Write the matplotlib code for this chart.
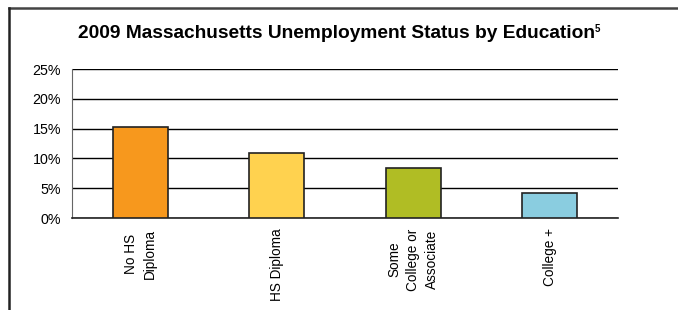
import matplotlib.pyplot as plt
from matplotlib.lines import Line2D

plt.rcParams['font.family'] = ['Liberation Sans', 'DejaVu Sans']

categories = ['No HS\nDiploma', 'HS Diploma', 'Some\nCollege or\nAssociate', 'College +']
rates = [15.3, 10.9, 8.4, 4.2]
colors = ['#F7981D', '#FFD24F', '#B0BD24', '#8ACDE0']
yticks = [0, 5, 10, 15, 20, 25]

fig = plt.figure(figsize=(6.78, 3.10), dpi=100)
ax = fig.add_axes([72/678, 1 - 218/310, 546/678, 149/310])

x = range(len(categories))
ax.bar(x, rates, width=0.4, color=colors, edgecolor='#222222', linewidth=1.2, zorder=3)

ax.set_xlim(-0.5, 3.5)
ax.set_ylim(0, 25)
ax.set_yticks(yticks)
ax.set_yticklabels([f'{v}%' for v in yticks], fontsize=10.3)
ax.yaxis.grid(True, color='black', linewidth=1)
ax.set_axisbelow(True)
ax.tick_params(axis='y', length=0, pad=8)
ax.tick_params(axis='x', length=0)
ax.set_xticks(list(x))
ax.set_xticklabels([])
for i, lab in enumerate(categories):
    ax.text(i, -0.07, lab, transform=ax.get_xaxis_transform(), rotation=90,
            ha='center', va='top', multialignment='center', fontsize=9.8,
            linespacing=1.4)

for s in ['top', 'right']:
    ax.spines[s].set_visible(False)
ax.spines['left'].set_color('#666666')
ax.spines['bottom'].set_color('#222222')
ax.spines['bottom'].set_linewidth(1.2)

fig.text(337/678, 1 - 33/310, '2009 Massachusetts Unemployment Status by Education',
         ha='center', va='center', fontsize=13.8, fontweight='bold')
fig.text(595/678, 1 - 29/310, '5', ha='left', va='center', fontsize=7, fontweight='bold')

# frame lines of the original box
fig.add_artist(Line2D([8.5/678, 1], [1 - 8/310, 1 - 8/310], transform=fig.transFigure,
                      color='#444444', linewidth=1.8))
fig.add_artist(Line2D([8.5/678, 8.5/678], [1 - 8/310, 0], transform=fig.transFigure,
                      color='#222222', linewidth=1.8))

fig.savefig('out.png', dpi=100)
